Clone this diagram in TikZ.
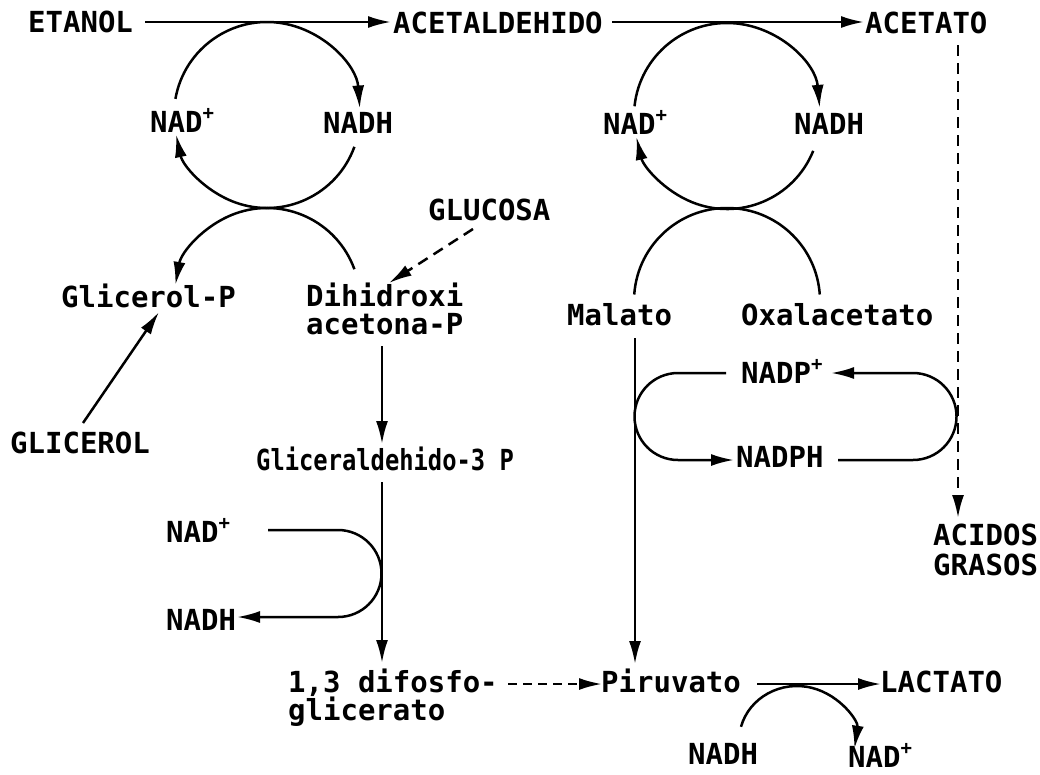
\documentclass[tikz,border=0pt]{standalone}
\usepackage{fontspec}
\setmonofont{DejaVu Sans Mono}
\usetikzlibrary{arrows.meta}
\newcommand\plusup{\raisebox{13pt}{\fontsize{19}{19}\selectfont +}}
\begin{document}
\begin{tikzpicture}[x=1pt,y=-1pt,
  lbl/.style={inner sep=0pt, anchor=base west, font=\fontsize{29}{28}\selectfont\ttfamily\bfseries},
  ln/.style={line width=2.5pt},
  arr/.style={ln,-{Latex[length=23pt,width=12pt]}},
  dsh/.style={dash pattern=on 11pt off 7pt}]
\useasboundingbox (0,0) rectangle (1040,774);
% labels
\node[lbl] (etanol) at (28,32) {ETANOL};
\node[lbl] (acetald) at (393,33) {ACETALDEHIDO};
\node[lbl] (acetato) at (865,33) {ACETATO};
\node[lbl] (nadTL) at (150,132) {NAD\plusup};
\node[lbl] (nadhTL) at (323,133) {NADH};
\node[lbl] (nadTR) at (603,134) {NAD\plusup};
\node[lbl] (nadhTR) at (794,134) {NADH};
\node[lbl] (glucosa) at (428,220) {GLUCOSA};
\node[lbl] (glicp) at (61,307) {Glicerol-P};
\node[lbl, align=left] (dhap) at (306,334) {Dihidroxi\\acetona-P};
\node[lbl] (malato) at (567,325) {Malato};
\node[lbl] (oxal) at (741,325) {Oxalacetato};
\node[lbl] (nadp) at (741,383) {NADP\plusup};
\node[lbl] (nadph) at (736,467) {NADPH};
\node[lbl] (glicerol) at (10,453) {GLICEROL};
\node[lbl] (g3p) at (256,470) {\scalebox{0.82}[1]{Gliceraldehido-3 P}};
\node[lbl] (nadBL) at (166,542) {NAD\plusup};
\node[lbl] (nadhBL) at (166,630) {NADH};
\node[lbl, align=left] (acidos) at (933,575) {ACIDOS\\[2pt]GRASOS};
\node[lbl, align=left] (bpg) at (288,720) {1,3 difosfo-\\glicerato};
\node[lbl] (piruvato) at (601,692) {Piruvato};
\node[lbl] (lactato) at (880,692) {LACTATO};
\node[lbl] (nadhB) at (688,764) {NADH};
\node[lbl] (nadB) at (848,767) {NAD\plusup};
% connector ends
\coordinate (e1) at (145,22); \coordinate (a1) at (391,22);
\coordinate (a2) at (612,22); \coordinate (c1) at (864,22);
\coordinate (v1) at (958,45); \coordinate (v2) at (958,518);
\coordinate (gl1) at (473,229); \coordinate (gl2) at (389,283);
\coordinate (gr1) at (83,423); \coordinate (gr2) at (159,312);
\coordinate (d1) at (382,346); \coordinate (d2) at (382,444);
\coordinate (g1) at (382,482); \coordinate (g2) at (382,663);
\coordinate (m1) at (635,338); \coordinate (m2) at (635,664);
\coordinate (b1) at (508,684); \coordinate (b2) at (602,684);
\coordinate (p1) at (757,684); \coordinate (p2) at (881,684);
\coordinate (cTL) at (267,115); \coordinate (cBL) at (267,301);
\coordinate (cTR) at (727,116); \coordinate (cBR) at (727,301);
\coordinate (cB) at (797,741);
% straight arrows
\draw[arr] (e1) -- (a1);
\draw[arr] (a2) -- (c1);
\draw[arr,dsh] (v1) -- (v2);
\draw[arr,dsh] (gl1) -- (gl2);
\draw[arr] (gr1) -- (gr2);
\draw[arr] (d1) -- (d2);
\draw[arr] (g1) -- (g2);
\draw[arr] (m1) -- (m2);
\draw[arr,dash pattern=on 9pt off 6pt] (b1) -- (b2);
\draw[arr] (p1) -- (p2);
% cycles
\draw[arr] ([shift={(190:93)}]cTL) arc[start angle=190,end angle=356,radius=93];
\draw[arr] ([shift={(20:93)}]cTL) arc[start angle=20,end angle=168,radius=93];
\draw[arr] ([shift={(340:93)}]cBL) arc[start angle=340,end angle=190,radius=93];
\draw[arr] ([shift={(186:93)}]cTR) arc[start angle=186,end angle=355,radius=93];
\draw[arr] ([shift={(22:93)}]cTR) arc[start angle=22,end angle=167,radius=93];
\draw[ln] ([shift={(184:93)}]cBR) arc[start angle=184,end angle=356,radius=93];
% side loops
\draw[arr] (268,530) -- (338,530) arc[start angle=-90,end angle=90,radius=43.5] -- (237,617);
\draw[arr] (726,373) -- (678,373) arc[start angle=-90,end angle=-270,radius=43.5] -- (734,460);
\draw[arr] (838,460) -- (913,460) arc[start angle=90,end angle=-90,radius=43.5] -- (831,373);
\draw[arr] ([shift={(-165:58 and 55)}]cB) arc[start angle=-165,end angle=8,x radius=58,y radius=55];
\end{tikzpicture}
\end{document}
